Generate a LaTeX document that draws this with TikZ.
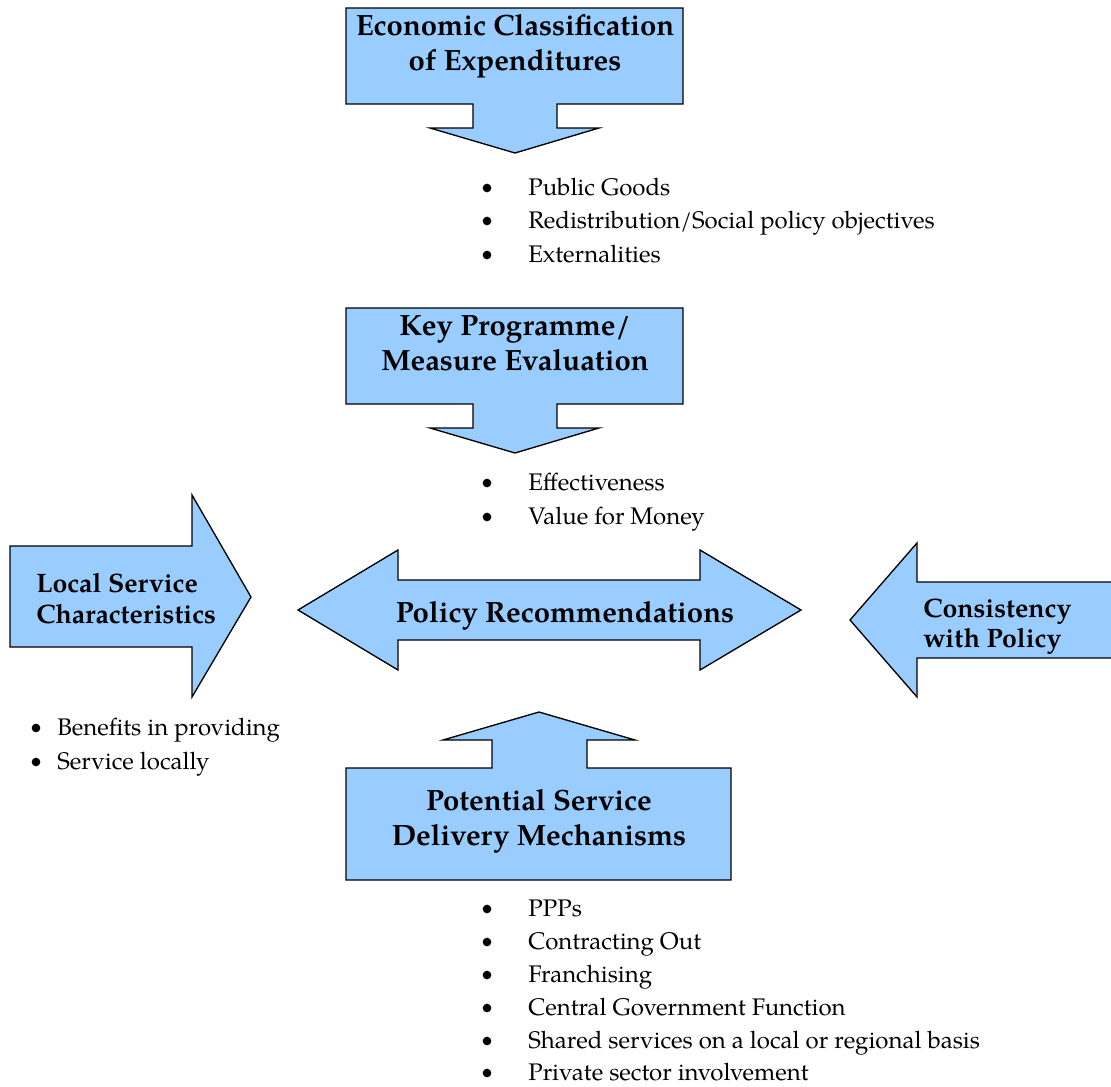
\documentclass[tikz,border=0pt]{standalone}
\usepackage{fontspec}
\setmainfont{TeX Gyre Pagella}
\definecolor{boxblue}{HTML}{99CCFF}
\begin{document}
\begin{tikzpicture}[x=0.75pt,y=-0.75pt,
  shp/.style={draw=black, fill=boxblue, line width=1pt, line join=miter},
  ttl/.style={font=\fontsize{22}{26}\selectfont\bfseries, anchor=base, inner sep=0pt},
  ttlw/.style={font=\fontsize{20}{24}\selectfont\bfseries, anchor=base west, inner sep=0pt},
  item/.style={font=\fontsize{18}{22}\selectfont, anchor=base west, inner sep=0pt},
  bul/.style={circle, fill=black, inner sep=0pt, minimum size=6.5pt}]
\useasboundingbox (0,0) rectangle (1111,1086);

% top callout
\draw[shp] (346,8) -- (683,8) -- (683,104) -- (557,104) -- (557,128) -- (599,128)
  -- (515,153) -- (430,128) -- (473,128) -- (473,104) -- (346,104) -- cycle;
\node[ttl] (t1a) at (515,35) {Economic Classification};
\node[ttl] (t1b) at (515,70) {of Expenditures};

% second callout
\draw[shp] (346,308) -- (683,308) -- (683,404) -- (557,404) -- (557,428) -- (599,428)
  -- (515,453) -- (430,428) -- (473,428) -- (473,404) -- (346,404) -- cycle;
\node[ttl] (t2a) at (515,335) {Key Programme/};
\node[ttl] (t2b) at (515,370) {Measure Evaluation};

% left arrow
\draw[shp] (10,546) -- (192,546) -- (192,495) -- (251,597) -- (192,697) -- (192,647)
  -- (10,647) -- cycle;
\node[ttlw] (l1) at (36,592) {Local Service};
\node[ttlw] (l2) at (36,623) {Characteristics};

% double arrow
\draw[shp] (298,610) -- (398,550) -- (398,580) -- (700,580) -- (700,550) -- (801,610)
  -- (700,670) -- (700,640) -- (398,640) -- (398,670) -- cycle;
\node[ttl] (pr) at (565,622) {Policy Recommendations};

% right arrow
\draw[shp] (1115,582) -- (917,582) -- (917,543) -- (850,620) -- (917,697) -- (917,658)
  -- (1115,658);
\node[ttlw] (r1) at (923,617) {Consistency};
\node[ttlw] (r2) at (923,647) {with Policy};

% bottom callout
\draw[shp] (346,768) -- (492,768) -- (492,740) -- (443,740) -- (539,712) -- (635,740)
  -- (587,740) -- (587,768) -- (731,768) -- (731,880) -- (346,880) -- cycle;
\node[ttl] (b1) at (539,810) {Potential Service};
\node[ttl] (b2) at (539,845) {Delivery Mechanisms};

% lists
\foreach \n/\y/\t in {pg/195/{Public Goods}, rd/228/{Redistribution/Social policy objectives}, ex/262/{Externalities},
  ef/490/{Effectiveness}, vm/524/{Value for Money},
  pp/916/{PPPs}, co/949/{Contracting Out}, fr/982/{Franchising}, cg/1015/{Central Government Function},
  ss/1048/{Shared services on a local or regional basis}, ps/1080/{Private sector involvement}}{
  \node[bul] (d\n) at (487,\y-7) {};
  \node[item] (i\n) at (528,\y) {\t};
}
\foreach \n/\y/\t in {bp/735/{Benefits in providing}, sl/769/{Service locally}}{
  \node[bul] (d\n) at (36,\y-7) {};
  \node[item] (i\n) at (57,\y) {\t};
}
\end{tikzpicture}
\end{document}
